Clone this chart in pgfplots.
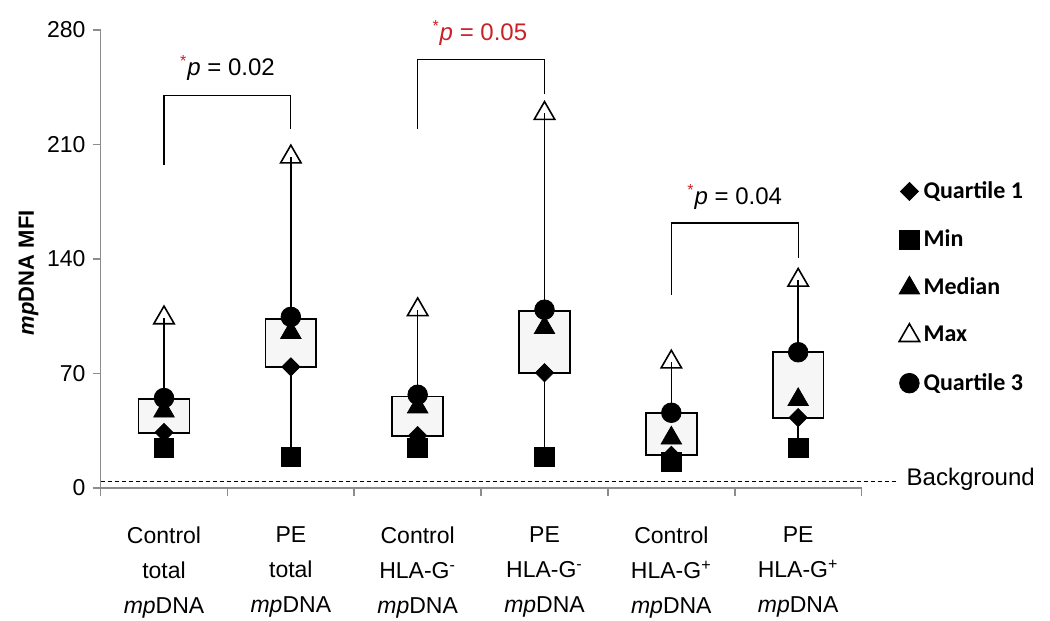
\documentclass[border=0pt]{standalone}
\usepackage{pgfplots}
\pgfplotsset{compat=1.18}
\usepackage{fontspec}
\setmainfont{Liberation Sans}
\newfontfamily\legfont{Carlito}
\definecolor{axisGray}{RGB}{140,140,140}
\definecolor{pRed}{RGB}{204,32,40}
\definecolor{boxFill}{RGB}{246,246,246}

\pgfplotsset{
  whisk/.style={forget plot, black, line width=0.8pt},
  qbox/.style={forget plot, draw=black, fill=boxFill, line width=0.85pt, line join=miter},
}

\begin{document}
\begin{tikzpicture}
\begin{axis}[
    name=ax,
    scale only axis,
    width=380.5pt, height=229pt,
    xmin=-0.5, xmax=5.5, ymin=0, ymax=280,
    axis x line*=bottom, axis y line*=left,
    axis line style={axisGray, line width=0.8pt},
    every tick/.style={axisGray, line width=0.8pt},
    tick align=outside,
    major tick length=4pt,
    xtick={-0.5,0.5,1.5,2.5,3.5,4.5,5.5}, xticklabels={},
    ytick={0,70,140,210,280},
    yticklabel style={font=\fontsize{11.5}{12}\selectfont},
    /pgf/number format/assume math mode=true,
    extra x ticks={0,1,2,3,4,5},
    extra x tick labels={
      {Control\\total\\\textit{mp}DNA},
      {PE\\total\\\textit{mp}DNA},
      {Control\\HLA-G\textsuperscript{-}\\\textit{mp}DNA},
      {PE\\HLA-G\textsuperscript{-}\\\textit{mp}DNA},
      {Control\\HLA-G\textsuperscript{+}\\\textit{mp}DNA},
      {PE\\HLA-G\textsuperscript{+}\\\textit{mp}DNA}},
    extra x tick style={major tick length=0pt,
      tick label style={align=center, font=\fontsize{11.5}{17.5}\selectfont, yshift=-16pt}},
    ylabel={\textbf{\textit{mp}DNA MFI}},
    every axis y label/.style={at={(axis description cs:-0.0946,0.47)}, rotate=90, anchor=center,
      font=\fontsize{11}{12}\selectfont},
    clip=false,
    legend style={draw=none, fill=none, at={(1.041,0.6875)}, anchor=north west,
      font=\legfont\bfseries\fontsize{12}{12}\selectfont, row sep=10.2pt},
    legend cell align=left,
    legend image code/.code={\draw[#1] plot coordinates {(0.1cm,0cm)};},
]
% whiskers: min to max
\addplot[whisk] coordinates {(0,24.4)(0,104)};
\addplot[whisk] coordinates {(1,19)(1,202.4)};
\addplot[whisk] coordinates {(2,24.4)(2,109)};
\addplot[whisk] coordinates {(3,19)(3,229)};
\addplot[whisk] coordinates {(4,16)(4,77)};
\addplot[whisk] coordinates {(5,24.4)(5,127)};

% boxes: Q1 to Q3
\addplot[qbox] coordinates {(-0.2,33.6)(0.2,33.6)(0.2,54.4)(-0.2,54.4)(-0.2,33.6)} -- cycle;
\addplot[qbox] coordinates {(0.8,74)(1.2,74)(1.2,103.3)(0.8,103.3)(0.8,74)} -- cycle;
\addplot[qbox] coordinates {(1.8,32)(2.2,32)(2.2,56)(1.8,56)(1.8,32)} -- cycle;
\addplot[qbox] coordinates {(2.8,70.5)(3.2,70.5)(3.2,108)(2.8,108)(2.8,70.5)} -- cycle;
\addplot[qbox] coordinates {(3.8,20)(4.2,20)(4.2,46)(3.8,46)(3.8,20)} -- cycle;
\addplot[qbox] coordinates {(4.8,43)(5.2,43)(5.2,83)(4.8,83)(4.8,43)} -- cycle;

% markers
\addplot[only marks, black, mark=square*, mark size=3.2pt, mark options={rotate=45}] coordinates {
  (0,34)(1,74)(2,32)(3,70.5)(4,20)(5,43)};
\addlegendentry{Quartile 1}
\addplot[only marks, black, mark=square*, mark size=4.9pt] coordinates {
  (0,24.4)(1,19)(2,24.4)(3,19)(4,16)(5,24.4)};
\addlegendentry{Min}
\addplot[only marks, black, mark=triangle*, mark size=5.9pt] coordinates {
  (0,47)(1,95)(2,49.5)(3,98)(4,30.5)(5,54)};
\addlegendentry{Median}
\addplot[only marks, black, mark=triangle, mark size=5.9pt,
  mark options={fill=white, line width=0.8pt}] coordinates {
  (0,104)(1,202.4)(2,109)(3,229)(4,77)(5,127)};
\addlegendentry{Max}
\addplot[only marks, black, mark=*, mark size=4.9pt] coordinates {
  (0,55)(1,104.6)(2,57)(3,109)(4,46)(5,83)};
\addlegendentry{Quartile 3}

% significance brackets
\addplot[forget plot, black, line width=0.65pt] coordinates {(0,197.4)(0,240)(1,240)(1,219.4)};
\addplot[forget plot, black, line width=0.65pt] coordinates {(2,219.4)(2,262)(3,262)(3,241)};
\addplot[forget plot, black, line width=0.65pt] coordinates {(4,118)(4,162)(5,162)(5,140.6)};

% background level
\addplot[forget plot, black, line width=0.5pt, dash pattern=on 2pt off 1.5pt] coordinates {(-0.5,4)(5.79,4)};

\node[font=\fontsize{12}{12}\selectfont] at (axis cs:0.5,256.7)
  {\textcolor{pRed}{\textsuperscript{*}}\textit{p} = 0.02};
\node[font=\fontsize{12}{12}\selectfont, text=pRed] at (axis cs:2.49,278)
  {\textsuperscript{*}\textit{p} = 0.05};
\node[font=\fontsize{12}{12}\selectfont] at (axis cs:4.5,178)
  {\textcolor{pRed}{\textsuperscript{*}}\textit{p} = 0.04};
\node[font=\fontsize{12}{12}\selectfont, anchor=west] at (axis cs:5.80,5.5) {Background};
\end{axis}
\pgfresetboundingbox
\path[use as bounding box] ([shift={(-50.3pt,-66.5pt)}]ax.south west)
  rectangle ([shift={(474.7pt,244pt)}]ax.south west);
\end{tikzpicture}
\end{document}
